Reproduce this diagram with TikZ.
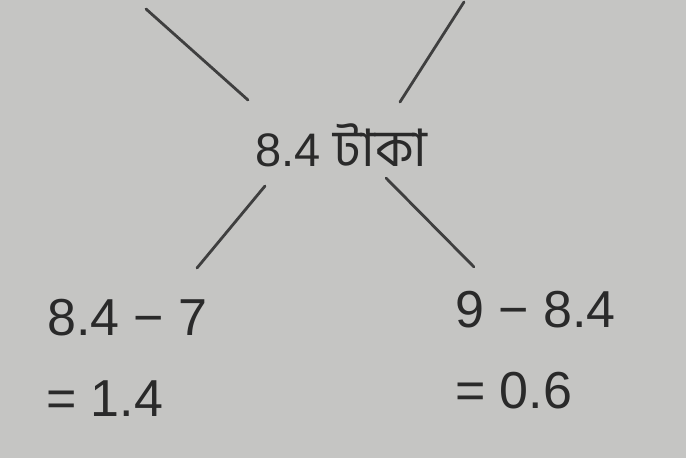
\documentclass[tikz,border=0pt]{standalone}
\usepackage{fontspec}
\setmainfont{Liberation Sans}
\newfontfamily\bnfont[Script=Bengali, Scale=1.1]{Hind Siliguri}
\usetikzlibrary{positioning}
\definecolor{paper}{RGB}{197,197,195}
\definecolor{ink}{RGB}{42,42,42}
\tikzset{
  val/.style={inner sep=0pt, anchor=base west, text=ink, font=\fontsize{52}{60}\selectfont},
  mid/.style={inner sep=0pt, anchor=base west, text=ink, font=\fontsize{47}{56}\selectfont},
  leg/.style={ink!90, line width=2.8pt, line cap=round},
}

\begin{document}
\begin{tikzpicture}[x=1pt, y=-1pt]
    \fill[paper] (0,0) rectangle (686,458);
    \useasboundingbox (0,0) rectangle (686,458);
    \node[mid] (price) at (255,166) {8.4 {\bnfont টাকা}};
    \node[val] (lowdiff) at (47,335) {8.4 − 7};
    \node[val] (lowres)  at (46,416) {= 1.4};
    \node[val] (highdiff) at (455,327) {9 − 8.4};
    \node[val] (highres)  at (455,408) {= 0.6};
    \coordinate (tl) at (146,9);
    \coordinate (tlend) at (248,100);
    \coordinate (tr) at (464,2);
    \coordinate (trend) at (400,102);
    \coordinate (bl) at (265,186);
    \coordinate (blend) at (197,268);
    \coordinate (br) at (386,178);
    \coordinate (brend) at (474,267);
    \draw[leg] (tl) -- (tlend);
    \draw[leg] (tr) -- (trend);
    \draw[leg] (bl) -- (blend);
    \draw[leg] (br) -- (brend);
  \end{tikzpicture}
\end{document}
